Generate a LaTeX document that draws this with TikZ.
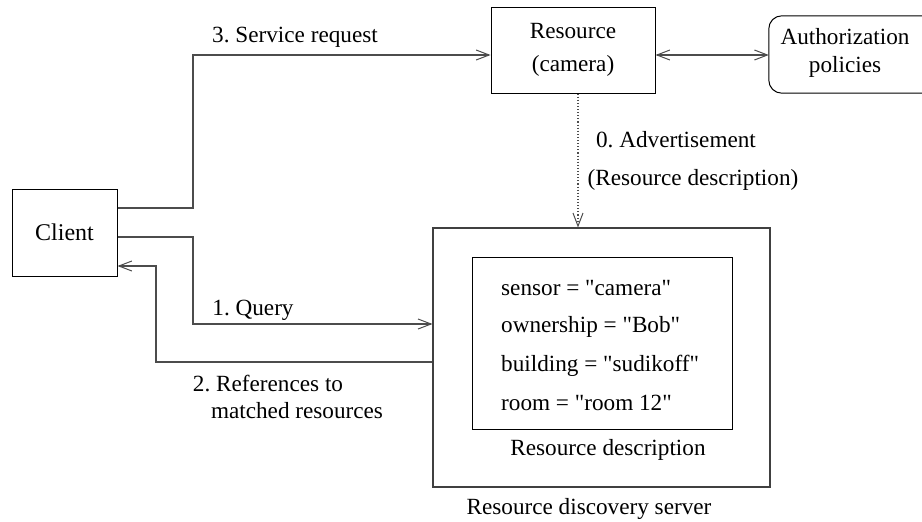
\documentclass[tikz,border=0pt]{standalone}
\usepackage{fontspec}
\setmainfont{Liberation Serif}
\newfontfamily\plainfam{Liberation Serif}
\usetikzlibrary{arrows.meta}
\newcommand{\qq}{{\plainfam\symbol{34}}}
\begin{document}
\begin{tikzpicture}[x=1pt,y=-1pt,
  every node/.style={font=\fontsize{23.2}{28}\selectfont\frenchspacing, inner sep=0pt},
  box/.style={draw=black, line width=1pt},
  gbox/.style={draw=black!75, line width=1.1pt},
  conn/.style={draw=black!70, line width=1.1pt},
  tip/.style={-{Straight Barb[length=13pt,width=10pt,line width=1pt]}}
]
\useasboundingbox (0,0) rectangle (922,522);
% boxes
\node[box, minimum width=105pt, minimum height=87pt] (client) at (64.5,232.5) {\fontsize{24}{28}\selectfont Client};
\node[box, minimum width=164pt, minimum height=86pt, align=center] (res) at (573,50) {Resource\\[5pt](camera)};
\node[minimum width=180pt, minimum height=77pt] (auth) at (859,54.5) {};
\draw[line width=1pt, rounded corners=13pt] (auth.north east) -- (auth.north west) -- (auth.south west) -- (auth.south east);
\node[align=center] (authlbl) at (845,53) {Authorization\\policies};
\node[gbox, minimum width=337pt, minimum height=259pt] (srv) at (601.5,357.5) {};
\node[box, minimum width=260pt, minimum height=172pt] (desc) at (602,343) {};
% description text
\node[anchor=west] (t1) at (501,288) {sensor = \qq camera\qq};
\node[anchor=west] (t2) at (501,327) {ownership = \qq Bob\qq};
\node[anchor=west] (t3) at (501,366) {building = \qq sudikoff\qq};
\node[anchor=west] (t4) at (501,403) {room = \qq room 12\qq};
\node (dlbl) at (608,450) {Resource description};
\node (slbl) at (589,509) {Resource discovery server};
% connectors
\coordinate (c1) at (193,208);
\coordinate (c2) at (193,237);
\coordinate (c3) at (156,362);
\draw[conn,tip] (client.east |- c1) -- (c1) |- (res.west |- 0,55);
\draw[conn,tip] (client.east |- c2) -- (c2) |- (srv.west |- 0,324);
\draw[conn,tip] (srv.west |- c3) -- (c3) |- (client.east |- 0,266);
\draw[conn,{Straight Barb[length=13pt,width=10pt,line width=1pt]}-{Straight Barb[length=13pt,width=10pt,line width=1pt]}] (res.east |- 0,55) -- (auth.west |- 0,55);
\draw[conn,tip,dotted] (res.south -| 578,0) -- (srv.north -| 578,0);
% labels
\node (l3) at (295,37) {3. Service request};
\node (l1) at (253,310) {1. Query};
\node (l2a) at (268,383) {2. References to};
\node (l2b) at (297,411) {matched resources};
\node (l0a) at (676,140) {0. Advertisement};
\node (l0b) at (693,180) {(Resource description)};
\end{tikzpicture}
\end{document}
